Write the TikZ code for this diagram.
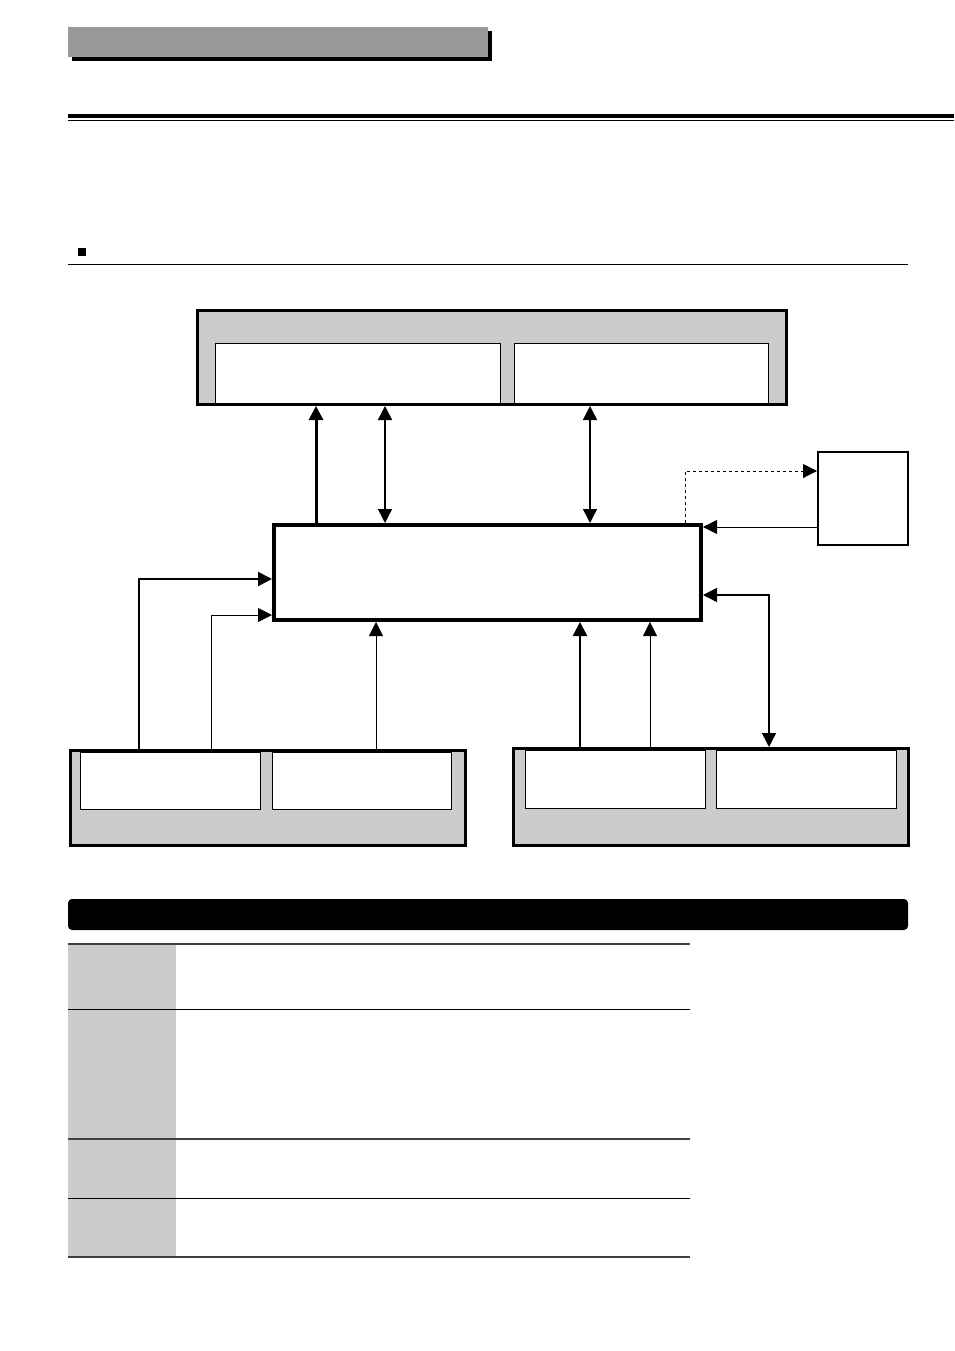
\documentclass[tikz,border=0pt]{standalone}
\usetikzlibrary{arrows.meta,positioning}
\tikzset{
  box/.style = {draw, line width=3pt, fill=black!20, anchor=north west, inner sep=0pt},
  cell/.style = {draw, line width=0.8pt, fill=white, anchor=north west, inner sep=0pt},
  link/.style = {line width=1.5pt, -{Triangle[length=14pt,width=14pt]}},
  both/.style = {line width=1.5pt, {Triangle[length=14pt,width=14pt]}-{Triangle[length=14pt,width=14pt]}}
}
\begin{document}
\begin{tikzpicture}[x=1pt, y=-1pt]
  \useasboundingbox (0,0) rectangle (954,1351);
  % header bar
  \fill (72,31) rectangle (492,61);
  \fill[black!40] (68,27) rectangle (488,57);
  \draw[line width=4pt] (68,116) -- (954,116);
  \draw[line width=1pt] (68,121) -- (954,121);
  \fill (78,248) rectangle (86,256);
  \draw[line width=0.6pt] (68,264) -- (908,264);

  % blocks
  \node[box, minimum width=589pt, minimum height=94pt] (top) at (196,309) {};
  \node[cell, minimum width=285pt, minimum height=60pt] (topa) at (215,343) {};
  \node[cell, minimum width=254pt, minimum height=60pt] (topb) at (514,343) {};
  \node[draw, line width=4pt, fill=white, anchor=north west, minimum width=427pt, minimum height=95pt] (core) at (272,523) {};
  \node[draw, line width=2pt, anchor=north west, minimum width=90pt, minimum height=93pt] (side) at (817,451) {};
  \node[box, minimum width=395pt, minimum height=95pt] (left) at (69,749) {};
  \node[cell, minimum width=180pt, minimum height=57pt] (lefta) at (80,752) {};
  \node[cell, minimum width=179pt, minimum height=57pt] (leftb) at (272,752) {};
  \node[box, minimum width=395pt, minimum height=97pt] (right) at (512,747) {};
  \node[cell, minimum width=180pt, minimum height=58pt] (righta) at (525,750) {};
  \node[cell, minimum width=180pt, minimum height=58pt] (rightb) at (716,750) {};

  % connectors
  \draw[link, line width=3pt] (316,0 |- core.north) -- (316,0 |- top.south);
  \draw[both] (385,0 |- core.north) -- (385,0 |- top.south);
  \draw[both] (590,0 |- core.north) -- (590,0 |- top.south);
  \draw[link, dashed, line width=1pt] (685,0 |- core.north) |- (side.west |- 0,471);
  \draw[link, line width=1pt] (side.west |- 0,527) -- (core.east |- 0,527);
  \draw[link, line width=2pt] (139,0 |- left.north) |- (core.west |- 0,579);
  \draw[link, line width=1pt] (211,0 |- left.north) |- (core.west |- 0,615);
  \draw[link, line width=1pt] (376,0 |- left.north) -- (376,0 |- core.south);
  \draw[link, line width=2.5pt] (580,0 |- right.north) -- (580,0 |- core.south);
  \draw[link, line width=0.8pt] (650,0 |- right.north) -- (650,0 |- core.south);
  \draw[both] (769,0 |- right.north) |- (core.east |- 0,595);

  % table
  \fill[rounded corners=4pt] (68,899) rectangle (908,930);
  \fill[black!20] (68,944) rectangle (176,1257);
  \draw[line width=2.5pt, black!75] (68,944) -- (690,944);
  \draw[line width=0.6pt] (68,1009) -- (690,1009);
  \draw[line width=1.5pt, black!75] (68,1139) -- (690,1139);
  \draw[line width=0.6pt] (68,1198) -- (690,1198);
  \draw[line width=2.5pt, black!75] (68,1257) -- (690,1257);
\end{tikzpicture}
\end{document}
